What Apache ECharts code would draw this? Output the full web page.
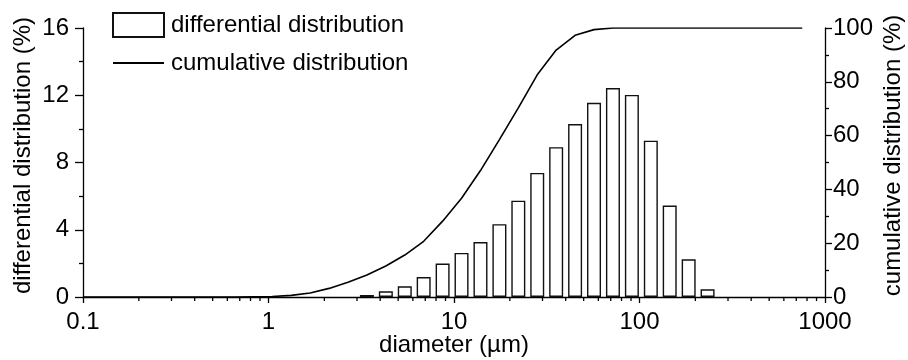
<!DOCTYPE html>
<html>
<head>
<meta charset="utf-8">
<style>
  html, body { margin: 0; padding: 0; background: #fff; }
  #chart { width: 908px; height: 360px; }
</style>
<script src="https://cdn.jsdelivr.net/npm/echarts@6/dist/echarts.min.js"></script>
</head>
<body>
<div id="chart"></div>
<script>
// Particle diameters (µm), log-spaced size classes
var diameters = [0.1, 0.1265, 0.16, 0.2024, 0.256, 0.3237, 0.4095, 0.518, 0.6551, 0.8286,
  1.048, 1.326, 1.676, 2.121, 2.682, 3.392, 4.291, 5.427, 6.863, 8.682,
  10.98, 13.89, 17.57, 22.22, 28.1, 35.54, 44.96, 56.86, 71.92, 90.97,
  115.1, 145.5, 184.1, 232.8, 294.5, 372.5, 471.1, 596, 753.9];

// Differential distribution (%) — bars (null = no bar)
var differential = [null, null, null, null, null, null, null, null, null, null,
  null, null, null, null, null, 0.12, 0.34, 0.64, 1.19, 1.99,
  2.62, 3.27, 4.33, 5.73, 7.38, 8.91, 10.29, 11.55, 12.43, 12.02,
  9.30, 5.44, 2.24, 0.46, null, null, null, null, null];

// Cumulative distribution (%) — line
var cumulative = [0, 0, 0, 0, 0, 0, 0, 0, 0, 0.1,
  0.2, 0.6, 1.5, 3.2, 5.5, 8.2, 11.5, 15.6, 20.7, 28.2,
  36.7, 47.0, 58.5, 70.3, 82.6, 91.8, 97.3, 99.4, 100, 100,
  100, 100, 100, 100, 100, 100, 100, 100, 100];

var xTickLabels = ['0.1', '1', '10', '100', '1000'];
var xMinorTicks = [0.2, 0.3, 0.4, 0.5, 0.6, 0.7, 0.8, 0.9,
  2, 3, 4, 5, 6, 7, 8, 9,
  20, 30, 40, 50, 60, 70, 80, 90,
  200, 300, 400, 500, 600, 700, 800, 900];

var seriesNames = ['differential distribution', 'cumulative distribution'];
var axisNames = { x: 'diameter (µm)', yLeft: 'differential distribution (%)', yRight: 'cumulative distribution (%)' };

var FONT = '"Liberation Sans", Arial, Helvetica, sans-serif';
var INK = '#000';

var barData = [];
var lineData = [];
for (var i = 0; i < diameters.length; i++) {
  if (differential[i] != null) barData.push([diameters[i], differential[i]]);
  lineData.push([diameters[i], cumulative[i]]);
}
var minorData = xMinorTicks.map(function (v) { return [v, 0]; });

var chart = echarts.init(document.getElementById('chart'), null, { renderer: 'canvas' });
chart.setOption({
  animation: false,
  backgroundColor: '#fff',
  textStyle: { fontFamily: FONT, color: INK },
  grid: { left: 83, right: 83, top: 28, bottom: 63, containLabel: false, outerBoundsMode: 'none' },
  legend: {
    orient: 'vertical',
    left: 112,
    top: 12,
    padding: 0,
    itemWidth: 51,
    itemHeight: 24,
    itemGap: 13,
    textStyle: { fontFamily: FONT, fontSize: 24, color: INK, padding: [0, 0, 0, 2] },
    data: [
      { name: seriesNames[0], icon: 'rect' },
      { name: seriesNames[1], itemStyle: { opacity: 0 } }
    ],
    selectedMode: false
  },
  xAxis: {
    type: 'log',
    logBase: 10,
    min: 0.1,
    max: 1000,
    name: axisNames.x,
    nameLocation: 'middle',
    nameGap: 36,
    nameMoveOverlap: false,
    nameTextStyle: { fontFamily: FONT, fontSize: 24, color: INK },
    axisLine: { show: true, onZero: false, lineStyle: { color: INK, width: 1.3 } },
    axisTick: { show: true, inside: false, length: 6, lineStyle: { color: INK, width: 1.3 } },
    axisLabel: {
      fontFamily: FONT, fontSize: 24, color: INK, margin: 13,
      formatter: function (v, idx) { return xTickLabels[idx] != null ? xTickLabels[idx] : ''; }
    },
    splitLine: { show: false },
    minorTick: { show: false }
  },
  yAxis: [
    {
      type: 'value',
      position: 'left',
      min: 0, max: 16, interval: 4,
      name: axisNames.yLeft,
      nameLocation: 'middle',
      nameGap: 48,
      nameMoveOverlap: false,
      nameTextStyle: { fontFamily: FONT, fontSize: 24, color: INK, padding: [0, 0, 0, 14] },
      axisLine: { show: true, lineStyle: { color: INK, width: 1.3 } },
      axisTick: { show: true, inside: false, length: 8, lineStyle: { color: INK, width: 1.3 } },
      minorTick: { show: true, splitNumber: 2, length: 4, lineStyle: { color: INK, width: 1.3 } },
      axisLabel: { fontFamily: FONT, fontSize: 24, color: INK, margin: 14 },
      splitLine: { show: false }
    },
    {
      type: 'value',
      position: 'right',
      min: 0, max: 100, interval: 20,
      name: axisNames.yRight,
      nameLocation: 'middle',
      nameGap: 56,
      nameMoveOverlap: false,
      nameTextStyle: { fontFamily: FONT, fontSize: 24, color: INK, padding: [0, 0, 0, 14] },
      axisLine: { show: true, lineStyle: { color: INK, width: 1.3 } },
      axisTick: { show: true, inside: false, length: 7, lineStyle: { color: INK, width: 1.3 } },
      minorTick: { show: true, splitNumber: 2, length: 4, lineStyle: { color: INK, width: 1.3 } },
      axisLabel: { fontFamily: FONT, fontSize: 24, color: INK, margin: 8 },
      splitLine: { show: false }
    }
  ],
  series: [
    {
      name: seriesNames[0],
      type: 'bar',
      xAxisIndex: 0,
      yAxisIndex: 0,
      barWidth: 14,
      itemStyle: { color: '#fff', borderColor: '#111', borderWidth: 1.4 },
      data: barData,
      z: 2
    },
    {
      name: seriesNames[1],
      type: 'line',
      xAxisIndex: 0,
      yAxisIndex: 1,
      symbol: 'none',
      showSymbol: false,
      smooth: false,
      lineStyle: { color: INK, width: 1.6 },
      itemStyle: { color: INK },
      data: lineData,
      z: 3
    },
    {
      name: 'minorTicksX',
      type: 'custom',
      xAxisIndex: 0,
      yAxisIndex: 0,
      silent: true,
      clip: false,
      z: 5,
      data: minorData,
      renderItem: function (params, api) {
        var p = api.coord([api.value(0), 0]);
        return {
          type: 'line',
          shape: { x1: p[0], y1: p[1], x2: p[0], y2: p[1] + 4 },
          style: { stroke: INK, lineWidth: 1.3 }
        };
      }
    }
  ]
});
</script>
</body>
</html>
